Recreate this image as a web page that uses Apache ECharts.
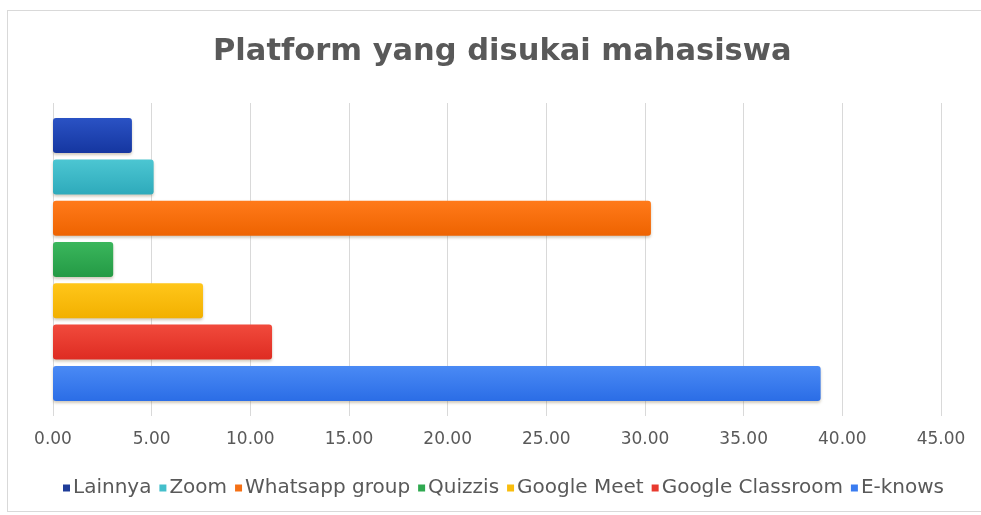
<!DOCTYPE html>
<html>
<head>
<meta charset="utf-8">
<script src="https://cdn.jsdelivr.net/npm/echarts@6/dist/echarts.min.js"></script>
<style>
html, body { margin: 0; padding: 0; background: #fff; }
#frame { position: absolute; left: 7px; top: 10px; width: 980px; height: 502px; border: 1px solid #d9d9d9; box-sizing: border-box; }
#chart { position: absolute; left: 0; top: 0; width: 981px; height: 515px; }
</style>
</head>
<body>
<div id="frame"></div>
<div id="chart"></div>
<script>
// data
var platforms = ['Lainnya', 'Zoom', 'Whatsapp group', 'Quizzis', 'Google Meet', 'Google Classroom', 'E-knows'];
var values = [4.0, 5.1, 30.3, 3.05, 7.6, 11.1, 38.9];
var colorsTop = ['#2a52c4', '#4cc6d2', '#ff7a1a', '#3ab65c', '#ffc61a', '#f14a3c', '#4a8af5'];
var colorsBottom = ['#1536a0', '#2eaabb', '#ee6300', '#249a45', '#f2b000', '#de2c22', '#2b6de6'];
var legendColors = ['#1f3d99', '#44bfcb', '#f57015', '#2fa950', '#f9bd0d', '#e83a2f', '#3a7cf0'];

var series = [];
// first series ends up on top of the band
for (var i = 0; i < platforms.length; i++) {
	series.push({
		name: platforms[i],
		type: 'bar',
		barWidth: 35,
		barGap: '18%',
		data: [values[i]],
		itemStyle: {
			borderRadius: 3,
			color: new echarts.graphic.LinearGradient(0, 0, 0, 1, [
				{offset: 0, color: colorsTop[i]},
				{offset: 1, color: colorsBottom[i]}
			]),
			shadowColor: 'rgba(120,100,60,0.35)',
			shadowBlur: 3,
			shadowOffsetY: 2
		}
	});
}

var myChart = echarts.init(document.getElementById('chart'));
var option = {
	animation: false,
	color: legendColors,
	title: {
		text: 'Platform yang disukai mahasiswa',
		left: 208,
		top: 32,
		textStyle: {
			fontFamily: 'DejaVu Sans',
			fontSize: 30.5,
			fontWeight: 'bold',
			color: '#595959'
		}
	},
	legend: {
		data: platforms.map(function (p, i) {
			return {name: p, itemStyle: {color: legendColors[i]}};
		}),
		bottom: 12,
		left: 58,
		icon: 'rect',
		itemWidth: 7,
		itemHeight: 7,
		itemGap: 8,
		textStyle: {
			fontFamily: 'DejaVu Sans',
			fontSize: 20,
			color: '#595959',
			padding: [0, 0, 0, -2]
		}
	},
	grid: {
		left: 53,
		right: 40,
		top: 103,
		bottom: 99
	},
	xAxis: {
		type: 'value',
		min: 0,
		max: 45,
		interval: 5,
		axisLine: {show: false},
		axisTick: {show: false},
		splitLine: {lineStyle: {color: '#d9d9d9'}},
		axisLabel: {
			formatter: function (v) { return v.toFixed(2); },
			fontFamily: 'DejaVu Sans',
			fontSize: 17,
			color: '#595959',
			margin: 15
		}
	},
	yAxis: {
		type: 'category',
		data: [''],
		axisLine: {show: false},
		axisTick: {show: false},
		axisLabel: {show: false}
	},
	series: series
};
myChart.setOption(option);
</script>
</body>
</html>
